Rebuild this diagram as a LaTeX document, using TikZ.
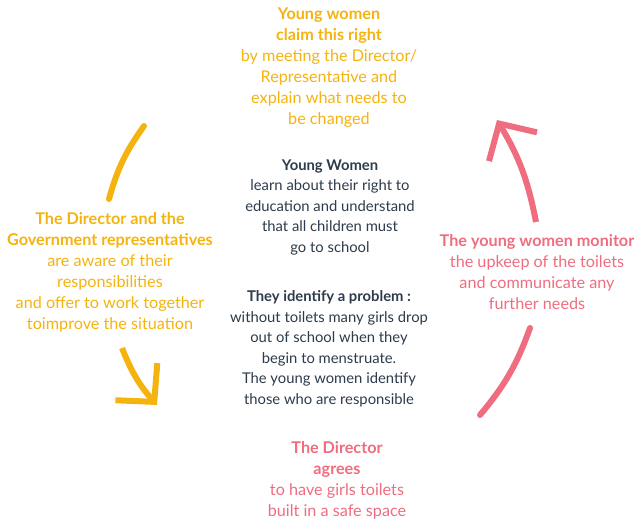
\documentclass[tikz,border=0pt]{standalone}
\usepackage{fontspec}
\setmainfont{Lato}
\usetikzlibrary{arrows.meta}
\definecolor{gold}{HTML}{F5B30F}
\definecolor{rose}{HTML}{EF6D7F}
\definecolor{slate}{HTML}{2D3B4B}
\begin{document}
\begin{tikzpicture}[x=1pt, y=-1pt]
              \useasboundingbox (0,0) rectangle (638,520);
              \begin{scope}[every node/.style={align=center, font=\fontsize{16.2}{21}\selectfont}]
                \node[text=gold] (claim) at (329,68) {\textbf{Young women}\\\textbf{claim this right}\\by meeting the Director/\\Representative and\\explain what needs to\\be changed};
                \node[text=gold] (aware) at (110,272) {\textbf{The Director and the}\\\textbf{Government representatives}\\are aware of their\\responsibilities\\and offer to work together\\toimprove the situation};
                \node[text=rose] (agree) at (337,480) {\textbf{The Director}\\\textbf{agrees}\\to have girls toilets\\built in a safe space};
                \node[text=rose] (monitor) at (537,272) {\textbf{The young women monitor}\\the upkeep of the toilets\\and communicate any\\further needs};
              \end{scope}
              \begin{scope}[every node/.style={align=center, text=slate, font=\fontsize{14.8}{20.5}\selectfont}]
                \node (learn) at (330,207) {\textbf{Young Women}\\learn about their right to\\education and understand\\that all children must\\go to school};
                \node (problem) at (329,349) {\textbf{They identify a problem :}\\without toilets many girls drop\\out of school when they\\begin to menstruate.\\The young women identify\\those who are responsible};
              \end{scope}
              \coordinate (lt1) at (144,126);
              \coordinate (lt2) at (109,199);
              \coordinate (lb1) at (122,348);
              \coordinate (lb2) at (157,405);
              \coordinate (rb1) at (480,415);
              \coordinate (rb2) at (530,328);
              \coordinate (rt1) at (536,222);
              \coordinate (rt2) at (497,120);
              \begin{scope}[every edge/.style={draw, line width=6pt, bend right=10}]
                \path (lt1) edge[gold, line cap=round] (lt2);
                \path (lb1) edge[gold, -{Straight Barb[length=27pt, width=56pt, sharp]}] (lb2);
                \path (rb1) edge[rose, line cap=round] (rb2);
                \path (rt1) edge[rose, -{Straight Barb[length=27pt, width=56pt, sharp]}] (rt2);
              \end{scope}
            \end{tikzpicture}
\end{document}
